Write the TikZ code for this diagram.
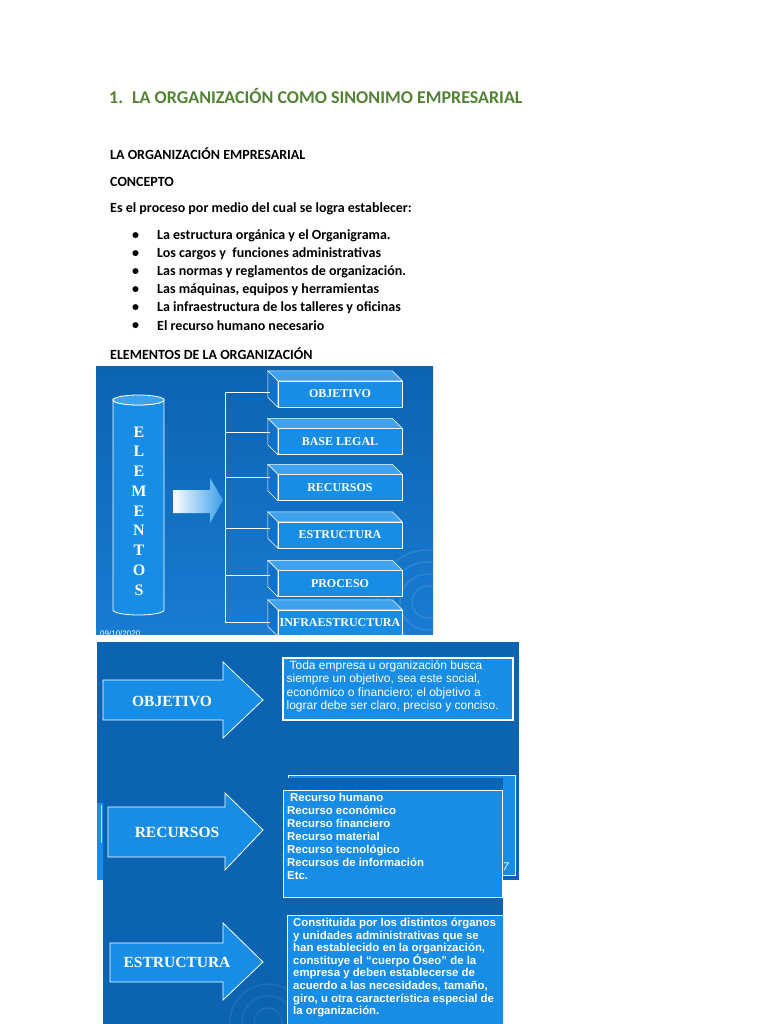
\documentclass[tikz,border=0pt]{standalone}
\usepackage{fontspec}
\newfontfamily\calibri{Carlito}
\newfontfamily\arialfont{Liberation Sans}
\newfontfamily\timesfont{Liberation Serif}
\usetikzlibrary{positioning, calc}

\definecolor{titlegreen}{RGB}{84,130,53}
\definecolor{slidedark}{RGB}{12,99,178}
\definecolor{slidelight}{RGB}{24,124,210}
\definecolor{boxblue}{RGB}{24,141,230}
\definecolor{boxtop}{RGB}{62,162,238}
\definecolor{boxside}{RGB}{18,112,198}

\begin{document}
\begin{tikzpicture}[
    x=1pt, y=-1pt,
    doctext/.style={font=\calibri\bfseries\fontsize{14}{16}\selectfont, anchor=west, inner sep=0pt},
    treeline/.style={white, line width=0.8pt},
    elembox/.style={fill=boxblue, draw=white, line width=0.5pt, minimum width=124pt, minimum height=26pt,
        inner sep=0pt, text=white, font=\timesfont\bfseries\fontsize{12}{13}\selectfont},
    slidearrow/.style={fill=boxblue, draw=white, line width=0.8pt},
    arrowlabel/.style={text=white, font=\timesfont\bfseries\fontsize{15.5}{17}\selectfont, inner sep=0pt},
    descbox/.style={fill=boxblue, draw=white, line width=1.2pt, inner sep=0pt}
]

\tikzset{desctext/.style={text=white, align=left, anchor=north west, inner sep=0pt}}

\useasboundingbox (0,0) rectangle (768,1024);
\fill[white] (0,0) rectangle (768,1024);

% --- 1. Texto del documento ---
\node[doctext, font=\calibri\bfseries\fontsize{18}{20}\selectfont, text=titlegreen] (titulo) at (109,96)
    {1.\hspace{9pt}LA ORGANIZACIÓN COMO SINONIMO EMPRESARIAL};
\node[doctext] (orgemp) at (110,154) {LA ORGANIZACIÓN EMPRESARIAL};
\node[doctext] (concepto) at (110,182) {CONCEPTO};
\node[doctext] (proceso) at (110,209) {Es el proceso por medio del cual se logra establecer:};

\foreach \txt [count=\i] in {
    La estructura orgánica y el Organigrama.,
    Los cargos y\ \ funciones administrativas,
    Las normas y reglamentos de organización.,
    {Las máquinas, equipos y herramientas},
    La infraestructura de los talleres y oficinas,
    El recurso humano necesario
}{
    \node[doctext] (bul\i) at (132,218+18*\i) {\textbullet};
    \node[doctext] (item\i) at (157,218+18*\i) {\txt};
}

\node[doctext] (elementos) at (110,354) {ELEMENTOS DE LA ORGANIZACIÓN};

% --- 2. Diapositiva: elementos ---
\begin{scope}
    \clip (96,366) rectangle (433,634);
    \shade[top color=slidedark, bottom color=slidelight] (96,366) rectangle (433,634);

    % anillos de fondo
    \foreach \r in {16,28,40,52}
        \draw[white, opacity=0.10, line width=1.5pt] (428,602) circle[radius=\r];

    % cilindro
    \draw[fill=boxblue, draw=white, line width=0.8pt] (113,400) -- (113,610)
        arc[start angle=180, end angle=0, x radius=25.5, y radius=5] -- (164,400)
        arc[start angle=0, end angle=180, x radius=25.5, y radius=5] -- cycle;
    \draw[fill=boxtop, draw=white, line width=0.8pt] (138.5,400) ellipse[x radius=25.5, y radius=5];
    \node[text=white, align=center, font=\timesfont\bfseries\fontsize{16}{19.75}\selectfont] (elem) at (139,511)
        {E\\L\\E\\M\\E\\N\\T\\O\\S};

    % flecha degradada
    \shade[left color=white, right color=boxblue!85!white] (173,490) -- (210,490) -- (210,478) -- (223,500)
        -- (210,523) -- (210,513) -- (173,513) -- cycle;

    % cajas
    \coordinate (trunktop) at (225,392);
    \coordinate (trunkbot) at (225,622);
    \draw[treeline] (trunktop) -- (trunkbot);

    \foreach \name/\txt/\yc/\by in {
        bobj/OBJETIVO/394/392, bbase/BASE LEGAL/441.5/432, brec/RECURSOS/487.5/477,
        best/ESTRUCTURA/535/528, bproc/PROCESO/583.5/575, binfra/INFRAESTRUCTURA/623/622
    }{
        \node[elembox] (\name) at (340,\yc) {\txt};
        \fill[boxtop, draw=white, line width=0.5pt] (\name.north west) -- ++(-10,-10)
            -- ([shift={(-10,-10)}]\name.north east) -- (\name.north east) -- cycle;
        \fill[boxside, draw=white, line width=0.5pt] (\name.north west) -- ++(-10,-10)
            -- ([shift={(-10,-10)}]\name.south west) -- (\name.south west) -- cycle;
        \coordinate (\name-in) at (270,\by);
        \draw[treeline] (\name-in) -- (\name-in -| trunktop);
    }

    \node[text=white, anchor=south west, inner sep=0pt, font=\arialfont\fontsize{8}{9}\selectfont] (fecha) at (100,637) {09/10/2020};
\end{scope}

% --- 3. Diapositiva: objetivo ---
\begin{scope}
    \clip (97,642) rectangle (519,880);
    \fill[slidedark] (97,642) rectangle (519,880);
    \fill[boxblue] (97,803) rectangle (103,880);
    \draw[white!70!boxblue, line width=0.8pt] (101.5,805) -- (101.5,843);
    \node[descbox, anchor=north west, minimum width=227pt, minimum height=100pt] (recback) at (288,775) {};
    \node[text=white, inner sep=0pt, font=\arialfont\itshape\fontsize{11}{12}\selectfont] (pagina) at (506,867) {7};
\end{scope}

\draw[slidearrow] (103,680) -- (223,680) -- (223,662) -- (263,700) -- (223,738) -- (223,720) -- (103,720) -- cycle;
\node[arrowlabel] (objarrow) at (172,701) {OBJETIVO};

\node[descbox, minimum width=230pt, minimum height=62pt] (objbox) at (398,689) {};
\node[desctext, font=\arialfont\fontsize{12}{13.3}\selectfont] (objtext) at ([shift={(4,3)}]objbox.north west)
    {\hspace{3pt}Toda empresa u organización busca\\
     siempre un objetivo, sea este social,\\
     económico o financiero; el objetivo a\\
     lograr debe ser claro, preciso y conciso.};

% --- 4. Diapositiva: recursos y estructura ---
\begin{scope}
    \clip (103,778) rectangle (503,1024);
    \fill[slidedark] (103,778) rectangle (503,1024);

    \foreach \r in {14,26,38}
        \draw[white, opacity=0.08, line width=1.5pt] (268,1022) circle[radius=\r];

    \draw[slidearrow] (108,807) -- (225,807) -- (225,793) -- (263,830) -- (225,870) -- (225,857) -- (108,857) -- cycle;
    \node[arrowlabel] (recarrow) at (177,832) {RECURSOS};

    \node[descbox, anchor=north west, minimum width=219pt, minimum height=107pt] (recbox) at (283,790) {};
    \node[desctext, font=\arialfont\bfseries\fontsize{11.4}{13}\selectfont] (rectext) at ([shift={(4,3)}]recbox.north west)
        {\hspace{3pt}Recurso humano\\
         Recurso económico\\
         Recurso financiero\\
         Recurso material\\
         Recurso tecnológico\\
         Recursos de información\\
         Etc.};

    \draw[slidearrow] (110,943) -- (223,943) -- (223,923) -- (263,962) -- (223,1000) -- (223,982) -- (110,982) -- cycle;
    \node[arrowlabel] (estarrow) at (177,962) {ESTRUCTURA};

    \node[descbox, anchor=north west, minimum width=216pt, minimum height=130pt] (estbox) at (287,915) {};
    \node[desctext, font=\arialfont\bfseries\fontsize{11.4}{12.6}\selectfont] (esttext) at ([shift={(6,3)}]estbox.north west)
        {Constituida por los distintos órganos\\
         y unidades administrativas que se\\
         han establecido en la organización,\\
         constituye el “cuerpo Óseo” de la\\
         empresa y deben establecerse de\\
         acuerdo a las necesidades, tamaño,\\
         giro, u otra característica especial de\\
         la organización.};
\end{scope}

\end{tikzpicture}
\end{document}
